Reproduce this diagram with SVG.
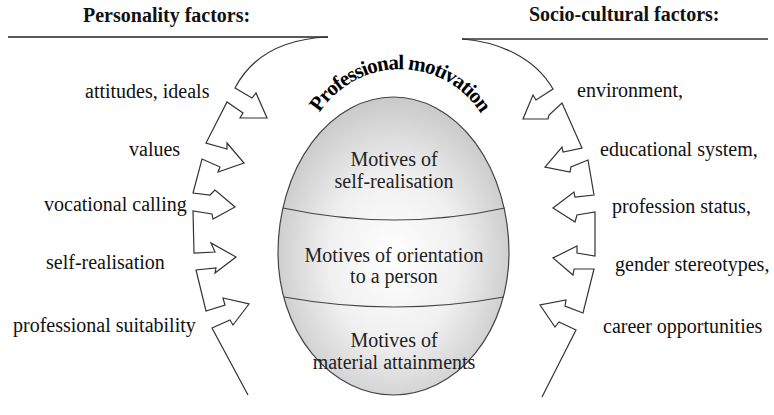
<svg xmlns="http://www.w3.org/2000/svg" width="774" height="415" viewBox="0 0 774 415">
  <defs>
    <radialGradient id="eggShade" cx="0.5" cy="0.54" r="0.56">
      <stop offset="0" stop-color="#ffffff"/>
      <stop offset="0.5" stop-color="#f0f0f0"/>
      <stop offset="1" stop-color="#c6c6c6"/>
    </radialGradient>
    <path id="titleArc" d="M305.5,148.3 A96,96 0 0 1 494.5,148.3"/>
  </defs>
  <style>
    text { font-family: "Liberation Serif", "Times New Roman", serif; fill: #111; }
    .head { font-size: 20px; font-weight: bold; }
    .label { font-size: 20px; }
    .inner { font-size: 20px; text-anchor: middle; fill: #222; }
    .title { font-size: 21px; font-weight: bold; letter-spacing: -0.9px; fill: #000; }
    .chain { fill: none; stroke: #333; stroke-width: 1.2; stroke-linejoin: miter; }
    .rule-l { stroke: #222; stroke-width: 1.3; }
    .rule-r { stroke: #666; stroke-width: 2; }
  </style>

  <rect width="774" height="415" fill="#ffffff"/>

  <!-- column headings with their rules -->
  <g id="personality-factors">
    <text class="head" x="83" y="22">Personality factors:</text>
    <line class="rule-l" x1="8" y1="37" x2="328" y2="37"/>
  </g>
  <g id="socio-cultural-factors">
    <text class="head" x="529" y="21">Socio-cultural factors:</text>
    <line class="rule-r" x1="462" y1="39" x2="768" y2="39"/>
  </g>

  <!-- left-hand factor labels -->
  <g id="personal-labels">
    <text class="label" x="85" y="98">attitudes, ideals</text>
    <text class="label" x="129" y="156">values</text>
    <text class="label" x="44" y="211">vocational calling</text>
    <text class="label" x="46" y="269">self-realisation</text>
    <text class="label" x="13" y="332">professional suitability</text>
  </g>

  <!-- right-hand factor labels -->
  <g id="social-labels">
    <text class="label" x="577" y="97">environment,</text>
    <text class="label" x="600" y="156">educational system,</text>
    <text class="label" x="612" y="213">profession status,</text>
    <text class="label" x="615" y="271">gender stereotypes,</text>
    <text class="label" x="603" y="333">career opportunities</text>
  </g>

  <!-- arrow chains pointing at the egg -->
  <g id="connectors">
    <path class="chain" d="M248,395 L212,328 L230,320 L233,325 L249,304 L223,298 L225,305 L206,311
      L196,270 L216,268 L215,273 L236,257 L211,243 L215,252 L194,253
      L193,211 L212,214 L213,219 L235,207 L215,190 L210,195 L193,193
      L202,159 L220,167 L218,172 L244,163 L227,143 L227,149 L206,143
      L227,102 L243,113 L240,118 L267,118 L256,93 L252,98 L235,88
      Q260,40 328,37"/>
    <path class="chain" d="M462,39 C500,42 535,58 553,89 L536,100 L533,95 L523,119 L548,119 L549,115 L562,103
      L582,148 L563,152 L562,147 L545,167 L570,172 L571,167 L588,160
      L594,195 L575,197 L574,192 L553,208 L575,222 L577,215 L595,212
      L595,256 L577,253 L577,246 L553,258 L573,275 L574,269 L594,269
      L583,313 L565,306 L566,300 L540,305 L555,327 L559,322 L576,330
      L542,397"/>
  </g>

  <!-- curved title over the egg -->
  <g id="professional-motivation">
    <text class="title"><textPath href="#titleArc" startOffset="50%" text-anchor="middle">Professional motivation</textPath></text>
  </g>

  <!-- the egg with its three bands of motives -->
  <g id="motives-egg">
    <path d="M278,253 A115.5,156 0 0 1 509,253 A115.5,142 0 0 1 278,253 Z" fill="url(#eggShade)" stroke="#444" stroke-width="1.2"/>
    <path d="M283,208 Q395,232 505,208" fill="none" stroke="#444" stroke-width="1.2"/>
    <path d="M284,297 Q395,317 504,297" fill="none" stroke="#444" stroke-width="1.2"/>
  </g>
  <g id="self-realisation-motives">
    <text class="inner" x="394" y="166">Motives of</text>
    <text class="inner" x="394" y="188">self-realisation</text>
  </g>
  <g id="person-orientation-motives">
    <text class="inner" x="394" y="262">Motives of orientation</text>
    <text class="inner" x="394" y="283">to a person</text>
  </g>
  <g id="material-motives">
    <text class="inner" x="394" y="347">Motives of</text>
    <text class="inner" x="394" y="369">material attainments</text>
  </g>
</svg>
